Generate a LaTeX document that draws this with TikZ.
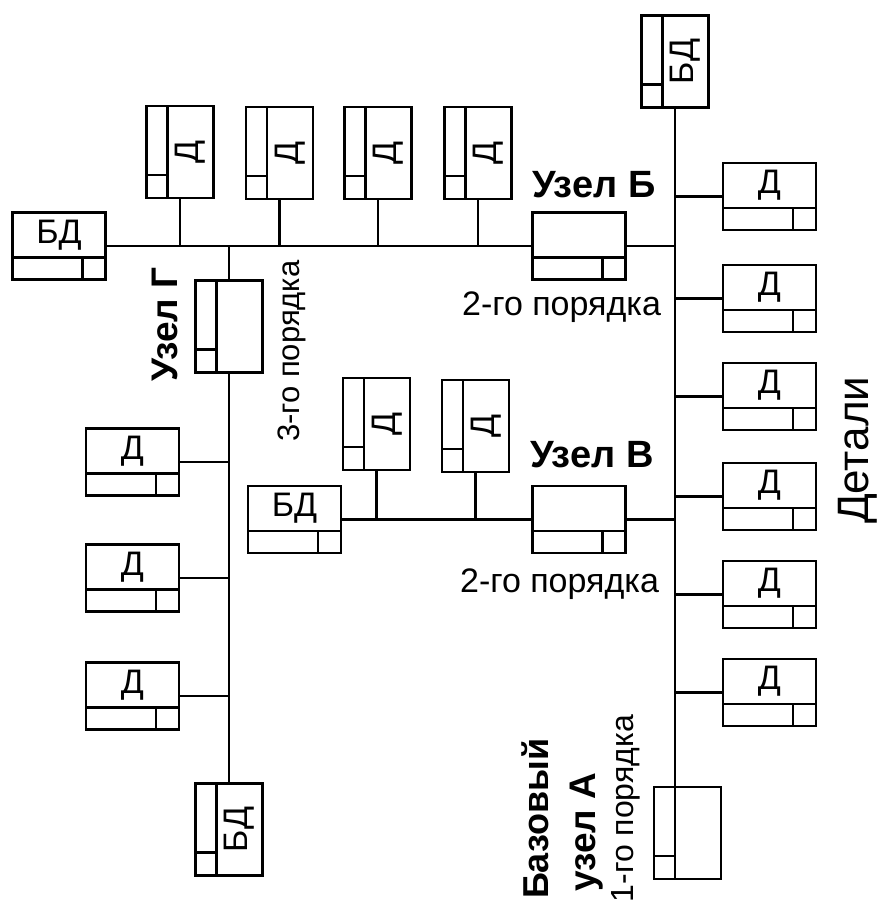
\documentclass[tikz,border=0pt]{standalone}
\usepackage{fontspec}
\setmainfont{Liberation Sans}
\begin{document}
\begin{tikzpicture}[x=1pt,y=-1pt,line width=2.2pt,
  hb/.style={draw,minimum width=93pt,minimum height=67pt,inner sep=0pt,outer sep=0pt},
  vb/.style={draw,minimum width=67pt,minimum height=92pt,inner sep=0pt,outer sep=0pt},
  btxt/.style={font=\fontsize{34}{34}\selectfont,inner sep=0pt},
  lbl/.style={inner sep=0pt},
  pics/hbox/.style={code={
    \node[hb] (-b) at (0,0) {};
    \draw (-46.5,11.5) -- (46.5,11.5);
    \draw (23.5,11.5) -- (23.5,33.5);
    \node[btxt] (-t) at (0,-11) {#1};
  }},
  pics/vbox/.style={code={
    \node[vb] (-b) at (0,0) {};
    \draw (-12.5,-46) -- (-12.5,46);
    \draw (-33.5,23) -- (-12.5,23);
    \coordinate (-top) at (-12.5,-46);
    \node[btxt,rotate=90] (-t) at (10.5,0) {#1};
  }}
]
\useasboundingbox (0,0) rectangle (877,912);

% boxes
\pic (bdl) at (59,246) {hbox={БД}};
\pic (Bn) at (579,246) {hbox={}};
\pic (td1) at (180,152) {vbox={Д}};
\pic (td2) at (279.5,153) {vbox={Д}};
\pic (td3) at (378,153) {vbox={Д}};
\pic (td4) at (478,153) {vbox={Д}};
\pic[line width=3.2pt] (bdt) at (675,61.5) {vbox={БД}};
\pic (rd1) at (769.5,196.5) {hbox={Д}};
\pic (rd2) at (769.5,298.5) {hbox={Д}};
\pic (rd3) at (769.5,396.5) {hbox={Д}};
\pic (rd4) at (769.5,496.5) {hbox={Д}};
\pic (rd5) at (769.5,594.5) {hbox={Д}};
\pic (rd6) at (769.5,692.5) {hbox={Д}};
\pic (A) at (687.5,833) {vbox={}};
\pic (G) at (229,326.5) {vbox={}};
\pic (ld1) at (132.5,462) {hbox={Д}};
\pic (ld2) at (132.5,578) {hbox={Д}};
\pic (ld3) at (132.5,696) {hbox={Д}};
\pic (bdb) at (229,829.5) {vbox={БД}};
\pic (bdv) at (294.5,519.5) {hbox={БД}};
\pic (Vn) at (579,519.5) {hbox={}};
\pic (vd1) at (376.5,424) {vbox={Д}};
\pic (vd2) at (475.5,426) {vbox={Д}};

% connectors
\draw (bdl-b.east) -- (Bn-b.west);
\foreach \n in {td1,td2,td3,td4} \draw (\n-b.south) -- (\n-b.south |- bdl-b.east);
\draw (Bn-b.east) -- (Bn-b.east -| bdt-b.south);
\draw (bdt-b.south) -- (A-top);
\foreach \n in {rd1,rd2,rd3,rd4,rd5,rd6} \draw (\n-b.west) -- (\n-b.west -| bdt-b.south);
\draw (Vn-b.east) -- (Vn-b.east -| bdt-b.south);
\draw (bdv-b.east) -- (Vn-b.west);
\foreach \n in {vd1,vd2} \draw (\n-b.south) -- (\n-b.south |- bdv-b.east);
\draw (G-b.north) -- (G-b.north |- bdl-b.east);
\draw (G-b.south) -- (bdb-b.north);
\foreach \n in {ld1,ld2,ld3} \draw (\n-b.east) -- (\n-b.east -| G-b.south);

% labels
\node[lbl,anchor=base west,font=\fontsize{38}{38}\selectfont\bfseries] (lB) at (531,197) {Узел Б};
\node[lbl,anchor=base west,font=\fontsize{38}{38}\selectfont\bfseries] (lV) at (529,467) {Узел В};
\node[lbl,anchor=base west,font=\fontsize{34}{34}\selectfont] (oB) at (461,315) {2-го порядка};
\node[lbl,anchor=base west,font=\fontsize{34}{34}\selectfont] (oV) at (459,592) {2-го порядка};
\node[lbl,anchor=base west,rotate=90,font=\fontsize{37}{37}\selectfont\bfseries] (lG) at (177,383) {Узел Г};
\node[lbl,anchor=base west,rotate=90,font=\fontsize{31}{31}\selectfont] (oG) at (299,443) {3-го порядка};
\node[lbl,anchor=base east,rotate=90,font=\fontsize{32}{32}\selectfont] (oA) at (633,714) {1-го порядка};
\node[lbl,anchor=base west,rotate=90,font=\fontsize{36}{36}\selectfont\bfseries] (lA1) at (548,900) {Базовый};
\node[lbl,anchor=base west,rotate=90,font=\fontsize{37}{37}\selectfont\bfseries] (lA2) at (595,893) {узел А};
\node[lbl,anchor=base west,rotate=90,font=\fontsize{44}{44}\selectfont] (lD) at (868,525) {Детали};
\end{tikzpicture}
\end{document}
